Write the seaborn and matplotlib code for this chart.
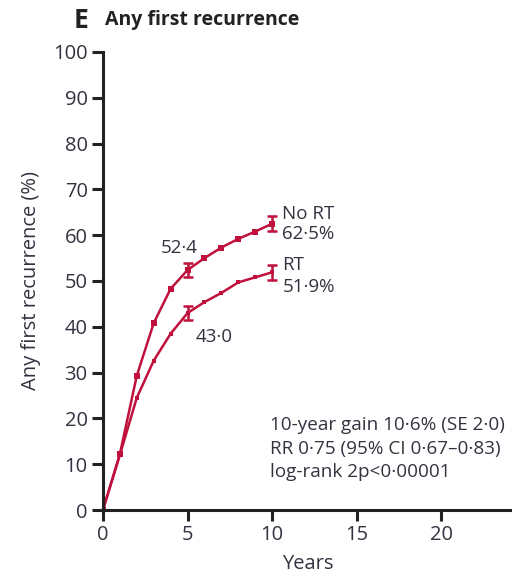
import matplotlib
matplotlib.use("Agg")
import matplotlib.pyplot as plt
import seaborn as sns
import pandas as pd
import numpy as np

years = [0, 1, 2, 3, 4, 5, 6, 7, 8, 9, 10]
no_rt = [0, 12.2, 29.3, 40.8, 48.3, 52.4, 55.0, 57.3, 59.2, 60.8, 62.5]
rt = [0, 12.0, 24.5, 32.6, 38.5, 43.0, 45.4, 47.4, 49.7, 50.8, 51.9]
err_years = [5, 10]
no_rt_err = [52.4, 62.5]
rt_err = [43.0, 51.9]
se = [1.6, 1.6]

sns.set_theme(style="ticks")
plt.rcParams['font.family'] = ['Open Sans', 'DejaVu Sans']

red = "#c0103c"
txt = "#333340"

df = pd.DataFrame({"Years": years * 2, "val": no_rt + rt,
                   "grp": ["No RT"] * len(years) + ["RT"] * len(years)})

fig = plt.figure(figsize=(5.12, 5.77), dpi=100)
ax = fig.add_axes([0.201, 0.116, 0.80, 0.794])
sns.lineplot(data=df[df.grp == "No RT"], x="Years", y="val", ax=ax, color=red,
             marker="s", markersize=5, markeredgewidth=0, linewidth=1.8, legend=False)
sns.lineplot(data=df[df.grp == "RT"], x="Years", y="val", ax=ax, color=red,
             marker="s", markersize=3.5, markeredgewidth=0, linewidth=1.8, legend=False)
ax.errorbar(err_years, no_rt_err, yerr=se, fmt="none", ecolor=red, elinewidth=1.8, capsize=3.5, capthick=1.8)
ax.errorbar(err_years, rt_err, yerr=se, fmt="none", ecolor=red, elinewidth=1.8, capsize=3.5, capthick=1.8)

ax.set_xlim(0, 24.2)
ax.set_ylim(0, 100)
ax.set_xticks([0, 5, 10, 15, 20])
ax.set_yticks(range(0, 101, 10))
ax.margins(0)
for s in ["top", "right"]:
    ax.spines[s].set_visible(False)
for s in ["left", "bottom"]:
    ax.spines[s].set_linewidth(2.2)
    ax.spines[s].set_color("#222222")
ax.tick_params(axis="both", length=8, width=2.2, color="#222222", labelsize=14.5, labelcolor=txt, pad=3)
ax.set_xlabel("Years", fontsize=14.5, color=txt, labelpad=6)
ax.set_ylabel("Any first recurrence (%)", fontsize=14.5, color=txt, labelpad=9)

fs = 13.5
ax.text(4.5, 55.2, "52·4", fontsize=fs, color=txt, ha="center", va="bottom")
ax.text(5.5, 37.8, "43·0", fontsize=fs, color=txt, ha="left", va="center")
ax.text(10.6, 64.6, "No RT", fontsize=fs, color=txt, ha="left", va="center")
ax.text(10.6, 60.2, "62·5%", fontsize=fs, color=txt, ha="left", va="center")
ax.text(10.6, 53.6, "RT", fontsize=fs, color=txt, ha="left", va="center")
ax.text(10.6, 48.6, "51·9%", fontsize=fs, color=txt, ha="left", va="center")
ax.text(9.9, 13.4, "10-year gain 10·6% (SE 2·0)\nRR 0·75 (95% CI 0·67–0·83)\nlog-rank 2p<0·00001",
        fontsize=13.6, color=txt, ha="left", va="center", linespacing=1.4)

fig.text(0.143, 0.965, "E", fontsize=19, fontweight="bold", color="#222222", va="center")
fig.text(0.205, 0.965, "Any first recurrence", fontsize=14, fontweight="bold", color="#222222", va="center")

fig.savefig("out.png", dpi=100)
